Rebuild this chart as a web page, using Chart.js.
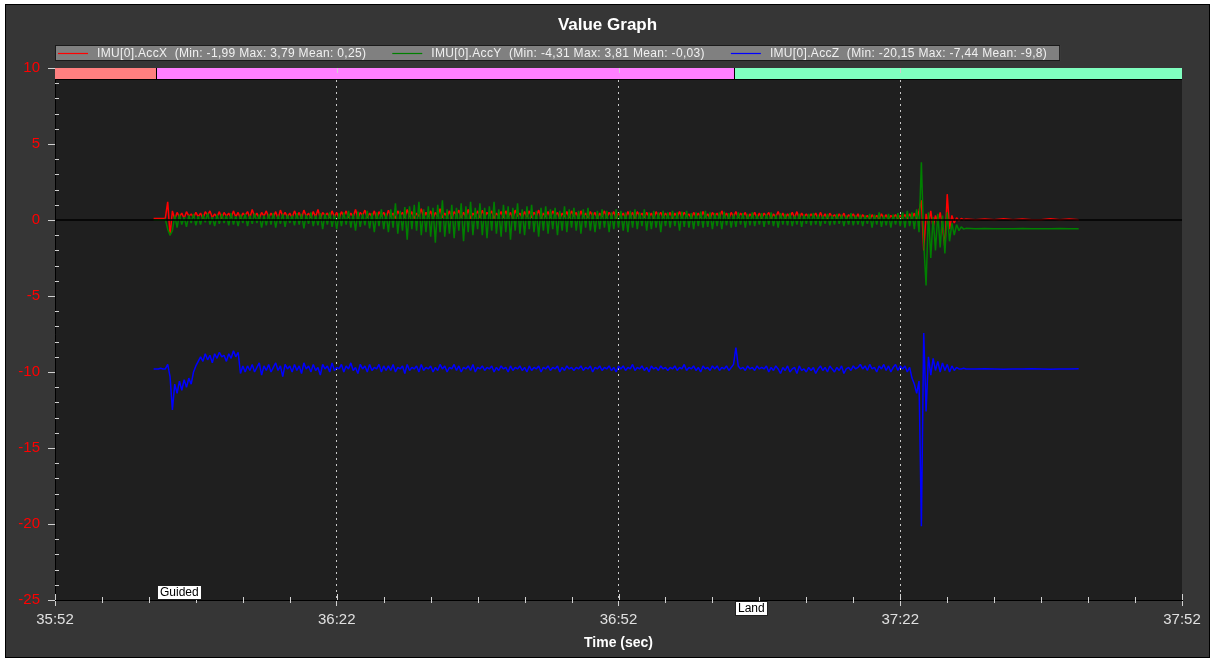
<!DOCTYPE html>
<html>
<head>
<meta charset="utf-8">
<title>Value Graph</title>
<script src="https://cdn.jsdelivr.net/npm/chart.js@4.4.1/dist/chart.umd.min.js"></script>
<style>
    html, body { margin: 0; padding: 0; background: #ffffff; }
    #wrap { width: 1215px; height: 662px; }
</style>
</head>
<body>
<div id="wrap"><canvas id="valueGraph" width="1215" height="662"></canvas></div>
<script>
// ===== data (time in seconds after 35:52) =====
const axisStartSec = 35 * 60 + 52;
// dense flight samples from t=10.5 every 0.25 s, then a calm tail every 1 s
const sampleStart = 10.5;
const sampleStep = 0.25;
const tailStart = 98;
const tailStep = 1;

const seriesNames = ['IMU[0].AccX', 'IMU[0].AccY', 'IMU[0].AccZ'];
const seriesMin = ['-1,99', '-4,31', '-20,15'];
const seriesMax = ['3,79', '3,81', '-7,44'];
const seriesMean = ['0,25', '-0,03', '-9,8'];
const seriesColors = ['#ff0000', '#008000', '#0000ff'];

const accX = [
    0.1, 0.1, 0.1, 0.1, 0.1, 0.12, 1.2, -1.0, 0.6, 0.05, 0.5, 0.2, 0.45, 0.1, 0.55, 0.25, 0.4, 0.15, 0.5, 0.2,
    0.45, 0.1, 0.55, 0.3, 0.6, 0.15, 0.4, 0.2, 0.55, 0.1, 0.5, 0.25, 0.45, 0.15, 0.6, 0.2, 0.5, 0.1, 0.45, 0.3,
    0.55, 0.15, 0.7, 0.2, 0.45, 0.1, 0.5, 0.25, 0.6, 0.15, 0.45, 0.2, 0.55, 0.1, 0.65, 0.25, 0.5, 0.2, 0.45, 0.15,
    0.6, 0.2, 0.5, 0.1, 0.65, 0.25, 0.45, 0.15, 0.55, 0.2, 0.7, 0.1, 0.5, 0.3, 0.45, 0.15, 0.6, 0.2, 0.5, 0.1,
    0.55, 0.25, 0.6, 0.15, 0.45, 0.2, 0.7, 0.1, 0.5, 0.3, 0.65, 0.15, 0.45, 0.2, 0.6, 0.1, 0.55, 0.25, 0.5, 0.15,
    0.65, 0.2, 0.45, 0.1, 0.6, 0.3, 0.5, 0.15, 0.7, 0.2, 0.55, 0.1, 0.45, 0.25, 0.75, 0.15, 0.5, 0.2, 0.6, 0.1,
    0.5, 0.25, 0.75, 0.15, 0.45, 0.2, 0.6, 0.1, 0.55, 0.3, 0.65, 0.15, 0.5, 0.2, 0.7, 0.1, 0.45, 0.25, 0.6, 0.15,
    0.65, 0.2, 0.5, 0.3, 0.6, 0.1, 0.45, 0.25, 0.55, 0.15, 0.6, 0.2, 0.5, 0.1, 0.65, 0.25, 0.45, 0.15, 0.55, 0.2,
    0.6, 0.15, 0.5, 0.25, 0.65, 0.1, 0.45, 0.2, 0.55, 0.15, 0.6, 0.3, 0.5, 0.1, 0.45, 0.2, 0.55, 0.15, 0.6, 0.25,
    0.5, 0.1, 0.6, 0.2, 0.45, 0.15, 0.55, 0.25, 0.5, 0.1, 0.45, 0.2, 0.6, 0.15, 0.5, 0.25, 0.55, 0.1, 0.45, 0.2,
    0.45, 0.15, 0.55, 0.2, 0.5, 0.1, 0.55, 0.25, 0.45, 0.15, 0.5, 0.2, 0.45, 0.1, 0.55, 0.25, 0.5, 0.15, 0.45, 0.2,
    0.5, 0.1, 0.45, 0.2, 0.55, 0.15, 0.5, 0.25, 0.4, 0.1, 0.5, 0.2, 0.45, 0.15, 0.55, 0.2, 0.4, 0.1, 0.5, 0.25,
    0.45, 0.15, 0.6, 0.2, 0.45, 0.1, 0.5, 0.2, 0.55, 0.15, 0.45, 0.25, 0.5, 0.1, 0.4, 0.2, 0.5, 0.15, 0.45, 0.1,
    0.45, 0.25, 0.5, 0.1, 0.4, 0.2, 0.55, 0.15, 0.45, 0.1, 0.4, 0.2, 0.5, 0.15, 0.55, 0.1, 0.45, 0.2, 0.4, 0.15,
    0.4, 0.2, 0.45, 0.1, 0.5, 0.15, 0.4, 0.05, 0.45, 0.2, 0.35, 0.1, 0.4, 0.15, 0.45, 0.05, 0.35, 0.2, 0.4, 0.1,
    0.4, 0.05, 0.35, 0.15, 0.3, 0.0, 0.35, 0.1, 0.3, 0.05, 0.4, 0.1, 0.35, 0.0, 0.3, 0.15, 0.35, 0.05, 0.3, 0.1,
    0.35, 0.05, 0.4, 0.1, 0.45, 0.0, 0.6, 1.3, -2.0, 0.4, -0.3, 0.6, -0.5, 0.3, -0.2, 0.5, -0.4, -1.8, 1.7, -0.6,
    0.3, -0.2, 0.15, -0.05, 0.1, 0.02, 0.06
];
const accXTail = [0.02, 0.07, 0.02, 0.08, 0.02, 0.07, 0.02, 0.02, 0.08, 0.02, 0.07, 0.02];

const accY = [
    0.0, 0.0, 0.0, 0.02, 0.0, 0.05, -0.6, -1.0, -0.7, 0.3, -0.5, 0.35, -0.3, 0.2, -0.45, 0.3, -0.2, 0.4, -0.35, 0.25,
    -0.3, 0.35, -0.15, 0.45, -0.3, 0.2, -0.4, 0.35, -0.25, 0.4, -0.2, 0.3, -0.35, 0.45, -0.3, 0.25, -0.4, 0.35, -0.2, 0.4,
    -0.4, 0.3, -0.25, 0.45, -0.2, 0.35, -0.5, 0.3, -0.35, 0.4, -0.3, 0.45, -0.5, 0.3, -0.25, 0.4, -0.45, 0.35, -0.2, 0.3,
    -0.35, 0.45, -0.3, 0.4, -0.55, 0.35, -0.25, 0.5, -0.4, 0.3, -0.35, 0.45, -0.6, 0.4, -0.3, 0.5, -0.45, 0.35, -0.6, 0.45,
    -0.4, 0.5, -0.3, 0.6, -0.5, 0.4, -0.7, 0.55, -0.45, 0.4, -0.35, 0.6, -0.55, 0.45, -0.8, 0.5, -0.4, 0.7, -0.6, 0.45,
    -0.8, 0.7, -0.5, 1.1, -0.9, 0.6, -0.7, 0.85, -1.3, 0.9, -0.6, 1.0, -0.7, 1.2, -1.0, 0.7, -0.8, 0.9, -1.1, 0.8,
    -1.5, 1.0, -0.8, 1.3, -1.1, 0.7, -0.9, 1.0, -1.2, 0.8, -0.7, 1.1, -1.4, 0.9, -0.8, 1.2, -1.0, 0.8, -0.6, 1.1,
    -1.0, 0.8, -1.2, 0.9, -0.7, 1.2, -0.9, 0.7, -1.1, 1.0, -0.8, 0.9, -1.3, 0.8, -0.7, 1.1, -0.9, 0.7, -1.0, 0.9,
    -0.6, 1.0, -0.8, 0.6, -1.1, 0.8, -0.7, 0.9, -0.9, 0.7, -0.6, 0.8, -1.0, 0.6, -0.7, 0.9, -0.8, 0.7, -0.5, 0.8,
    -0.7, 0.6, -0.9, 0.7, -0.5, 0.8, -0.7, 0.5, -0.8, 0.6, -0.6, 0.7, -0.5, 0.6, -0.8, 0.5, -0.6, 0.7, -0.5, 0.6,
    -0.7, 0.5, -0.8, 0.6, -0.5, 0.7, -0.6, 0.5, -0.4, 0.7, -0.7, 0.5, -0.6, 0.6, -0.5, 0.5, -0.8, 0.6, -0.4, 0.5,
    -0.5, 0.6, -0.4, 0.5, -0.7, 0.55, -0.45, 0.6, -0.5, 0.45, -0.6, 0.5, -0.4, 0.55, -0.5, 0.6, -0.45, 0.5, -0.6, 0.45,
    -0.4, 0.5, -0.6, 0.55, -0.35, 0.45, -0.5, 0.4, -0.45, 0.5, -0.3, 0.45, -0.5, 0.4, -0.35, 0.5, -0.4, 0.35, -0.3, 0.45,
    -0.45, 0.4, -0.3, 0.5, -0.4, 0.35, -0.5, 0.45, -0.3, 0.4, -0.35, 0.45, -0.4, 0.3, -0.3, 0.4, -0.45, 0.35, -0.25, 0.4,
    -0.35, 0.45, -0.3, 0.35, -0.4, 0.3, -0.25, 0.4, -0.35, 0.3, -0.3, 0.4, -0.25, 0.35, -0.4, 0.3, -0.3, 0.45, -0.35, 0.3,
    -0.3, 0.35, -0.4, 0.3, -0.25, 0.4, -0.5, 0.35, -0.3, 0.5, -0.45, 0.3, -0.35, 0.4, -0.5, 0.35, -0.3, 0.45, -0.4, 0.5,
    -0.5, 0.6, -0.4, 0.5, -0.6, 0.7, -0.8, 3.8, -1.5, -4.3, 0.5, -2.5, 0.2, -2.0, 0.4, -1.8, 0.3, -2.2, 0.5, -1.4,
    -0.2, -1.0, -0.3, -0.7, -0.45, -0.6, -0.55
];
const accYTail = [-0.57, -0.56, -0.58, -0.57, -0.57, -0.56, -0.58, -0.57, -0.57, -0.56, -0.58, -0.57];

const accZ = [
    -9.8, -9.8, -9.8, -9.75, -9.8, -9.8, -9.5, -10.3, -12.5, -10.8, -11.4, -10.6, -11.2, -10.5, -11.0, -10.4, -10.8, -10.0, -9.6, -9.3,
    -9.0, -9.3, -8.8, -9.2, -8.9, -9.4, -8.8, -9.1, -8.7, -9.0, -8.9, -9.3, -8.8, -9.1, -8.6, -9.0, -8.7, -10.1, -9.6, -10.0,
    -9.6, -9.9, -9.5, -10.0, -9.7, -9.4, -10.2, -9.6, -9.9, -9.5, -10.0, -9.7, -9.4, -9.9, -9.6, -10.3, -9.5, -9.8, -9.6, -10.0,
    -9.5, -9.9, -9.6, -10.1, -9.4, -9.8, -9.6, -10.0, -9.5, -9.9, -9.7, -10.2, -9.5, -9.8, -9.6, -10.0, -9.4, -9.9, -9.7, -9.8,
    -9.5, -10.0, -9.6, -9.8, -9.4, -9.9, -9.7, -10.1, -9.5, -9.8, -9.6, -10.0, -9.5, -9.9, -9.7, -9.8, -9.5, -10.0, -9.6, -9.9,
    -9.6, -9.9, -9.5, -10.0, -9.7, -9.8, -9.6, -10.1, -9.5, -9.9, -9.7, -9.8, -9.6, -10.0, -9.5, -9.9, -9.7, -9.8, -9.6, -10.0,
    -9.7, -9.9, -9.5, -9.8, -9.6, -10.0, -9.7, -9.8, -9.5, -9.9, -9.6, -10.0, -9.7, -9.8, -9.6, -9.9, -9.5, -10.0, -9.7, -9.8,
    -9.6, -9.9, -9.7, -9.8, -9.6, -10.0, -9.7, -9.9, -9.6, -9.8, -9.7, -10.0, -9.6, -9.9, -9.7, -9.8, -9.6, -9.9, -9.7, -10.0,
    -9.6, -9.9, -9.7, -9.8, -9.6, -10.0, -9.7, -9.8, -9.6, -9.9, -9.7, -9.8, -9.6, -10.0, -9.7, -9.9, -9.6, -9.8, -9.7, -9.9,
    -9.7, -9.8, -9.6, -9.9, -9.7, -9.8, -9.6, -10.0, -9.7, -9.8, -9.6, -9.9, -9.7, -9.8, -9.6, -9.9, -9.7, -10.0, -9.6, -9.8,
    -9.6, -9.9, -9.7, -9.8, -9.5, -9.9, -9.7, -9.8, -9.6, -9.9, -9.7, -10.0, -9.6, -9.8, -9.7, -9.9, -9.6, -9.8, -9.7, -9.9,
    -9.7, -9.8, -9.6, -9.9, -9.7, -9.8, -9.5, -9.9, -9.7, -9.8, -9.6, -9.9, -9.7, -10.0, -9.6, -9.8, -9.7, -9.9, -9.6, -9.8,
    -9.6, -9.9, -9.7, -9.8, -9.6, -9.9, -9.7, -9.5, -8.4, -9.6, -9.8, -9.7, -9.9, -9.6, -9.8, -9.7, -9.9, -9.6, -9.8, -9.7,
    -9.8, -9.6, -10.0, -9.7, -9.9, -9.6, -9.8, -10.1, -9.7, -9.9, -9.6, -10.0, -9.8, -9.7, -10.1, -9.6, -9.9, -9.8, -10.0, -9.7,
    -9.9, -9.7, -10.1, -9.8, -9.6, -9.9, -9.7, -10.0, -9.6, -9.8, -10.0, -9.7, -9.9, -9.6, -10.1, -9.8, -9.7, -9.9, -9.6, -9.8,
    -9.7, -9.5, -9.8, -9.6, -9.9, -9.5, -9.8, -9.7, -10.0, -9.6, -9.8, -9.5, -9.9, -9.6, -10.0, -9.7, -9.5, -9.9, -9.6, -9.8,
    -9.6, -10.0, -9.7, -10.4, -10.8, -11.4, -10.6, -20.15, -7.44, -12.6, -9.0, -10.2, -9.1, -9.9, -9.3, -10.0, -9.4, -9.9, -9.5, -10.0,
    -9.6, -9.9, -9.7, -9.8, -9.8, -9.75, -9.8
];
const accZTail = [-9.8, -9.78, -9.8, -9.82, -9.8, -9.8, -9.78, -9.8, -9.82, -9.8, -9.8, -9.78];

// flight modes: start time (s after 35:52)
const modeNames = ['', 'Guided', 'Land'];
const modeStarts = [0, 10.75, 72.25];
const modeColors = ['#ff8080', '#ff80ff', '#80ffc0'];

const xMin = 0, xMax = 120, xStep = 30;
const yMin = -25, yMax = 10, yStep = 5;

// ===== helpers =====
function fmtTime(v) {
    const total = axisStartSec + v;
    const mm = Math.floor(total / 60);
    const ss = Math.round(total % 60);
    return mm + ':' + String(ss).padStart(2, '0');
}

function toPoints(values, tail) {
    const pts = values.map((v, i) => ({ x: sampleStart + i * sampleStep, y: v }));
    tail.forEach((v, i) => pts.push({ x: tailStart + i * tailStep, y: v }));
    return pts;
}

const FONT = '"Liberation Sans", Arial, sans-serif';
Chart.defaults.font.family = FONT;

// ===== decorations: frame, stripe, zero line, minor ticks, legend =====
const decorPlugin = {
    id: 'valueGraphDecor',
    beforeDraw(chart) {
        const { ctx, chartArea: a, width, height } = chart;
        ctx.save();
        ctx.fillStyle = '#ffffff';
        ctx.fillRect(0, 0, width, height);
        ctx.fillStyle = '#363636';
        ctx.fillRect(5, 4, 1205, 654);
        ctx.strokeStyle = '#000000';
        ctx.lineWidth = 1;
        ctx.strokeRect(5.5, 4.5, 1204, 653);
        ctx.fillStyle = '#1f1f1f';
        ctx.fillRect(a.left, a.top, a.right - a.left, a.bottom - a.top);
        ctx.restore();
    },
    afterDatasetsDraw(chart) {
        const { ctx, chartArea: a, scales: { x, y } } = chart;
        ctx.save();

        // zero line on top of the data
        const y0 = y.getPixelForValue(0);
        ctx.strokeStyle = '#000000';
        ctx.lineWidth = 1.5;
        ctx.beginPath();
        ctx.moveTo(a.left, y0);
        ctx.lineTo(a.right, y0);
        ctx.stroke();

        // mode stripe at the top
        const stripeH = 11;
        modeStarts.forEach((s, i) => {
            const x1 = Math.round(x.getPixelForValue(s));
            const x2 = i + 1 < modeStarts.length ? Math.round(x.getPixelForValue(modeStarts[i + 1])) : a.right;
            ctx.fillStyle = modeColors[i];
            ctx.fillRect(x1, a.top, x2 - x1, stripeH);
        });
        ctx.strokeStyle = '#000000';
        ctx.lineWidth = 1;
        ctx.beginPath();
        ctx.moveTo(a.left, a.top + stripeH + 0.5);
        ctx.lineTo(a.right, a.top + stripeH + 0.5);
        modeStarts.forEach((s, i) => {
            if (i === 0) return;
            const px = Math.round(x.getPixelForValue(s)) + 0.5;
            ctx.moveTo(px, a.top);
            ctx.lineTo(px, a.top + stripeH);
        });
        ctx.stroke();

        // ticks: x minor every 5 s, inner part of majors, top majors
        ctx.strokeStyle = '#d0d0d0';
        ctx.beginPath();
        for (let t = xMin; t <= xMax; t += 5) {
            const px = Math.round(x.getPixelForValue(t)) + 0.5;
            if (t % xStep === 0) {
                ctx.moveTo(px, a.bottom - 6);
                ctx.lineTo(px, a.bottom);
                if (t !== xMin && t !== xMax) {
                    ctx.moveTo(px, a.top);
                    ctx.lineTo(px, a.top + 5);
                }
            } else {
                ctx.moveTo(px, a.bottom - 3);
                ctx.lineTo(px, a.bottom + 3);
            }
        }
        // y minor every 1
        for (let v = yMin + 1; v < yMax; v += 1) {
            if (v % yStep === 0) continue;
            const py = Math.round(y.getPixelForValue(v)) + 0.5;
            ctx.moveTo(a.left, py);
            ctx.lineTo(a.left + 4, py);
        }
        ctx.stroke();

        // mode labels
        ctx.font = '12px ' + FONT;
        ctx.textBaseline = 'middle';
        modeNames.forEach((name, i) => {
            if (!name) return;
            const px = Math.round(x.getPixelForValue(modeStarts[i])) + 1;
            const w = Math.round(ctx.measureText(name).width) + 6;
            const h = 15;
            const top = i % 2 === 1 ? a.bottom - h : a.bottom + 1;
            ctx.fillStyle = '#ffffff';
            ctx.fillRect(px, top, w, h);
            ctx.strokeStyle = '#202020';
            ctx.strokeRect(px + 0.5, top + 0.5, w - 1, h - 1);
            ctx.fillStyle = '#000000';
            ctx.fillText(name, px + 3, top + h / 2 + 0.5);
        });
        ctx.restore();
    },
    afterDraw(chart) {
        const { ctx, chartArea: a } = chart;
        ctx.save();
        ctx.font = '12px ' + FONT;
        ctx.letterSpacing = '0.33px';
        ctx.textBaseline = 'middle';
        const top = 45, h = 16, cy = top + h / 2;
        const texts = seriesNames.map((n, i) =>
            `${n}  (Min: ${seriesMin[i]} Max: ${seriesMax[i]} Mean: ${seriesMean[i]})`);
        let cx = a.left + 3;
        const items = texts.map(t => {
            const item = { lineX: cx, textX: cx + 39, text: t };
            cx = item.textX + ctx.measureText(t).width + 26;
            return item;
        });
        const right = cx - 26 + 13;
        ctx.fillStyle = '#808080';
        ctx.fillRect(a.left, top, right - a.left, h);
        ctx.strokeStyle = '#1a1a1a';
        ctx.lineWidth = 1;
        ctx.strokeRect(a.left + 0.5, top + 0.5, right - a.left - 1, h - 1);
        items.forEach((it, i) => {
            ctx.strokeStyle = seriesColors[i];
            ctx.lineWidth = 1.2;
            ctx.beginPath();
            ctx.moveTo(it.lineX, Math.round(cy) + 0.5);
            ctx.lineTo(it.lineX + 30, Math.round(cy) + 0.5);
            ctx.stroke();
            ctx.fillStyle = '#f0f0f0';
            ctx.fillText(it.text, it.textX, cy + 0.5);
        });
        ctx.restore();
    }
};

// ===== chart =====
const datasets = [[accX, accXTail], [accY, accYTail], [accZ, accZTail]].map(([vals, tail], i) => ({
    label: seriesNames[i],
    data: toPoints(vals, tail),
    borderColor: seriesColors[i],
    backgroundColor: seriesColors[i],
    borderWidth: 1.5,
    borderJoinStyle: 'bevel',
    pointRadius: 0,
    tension: 0,
    order: 3 - i,
    yAxisID: 'y'
}));

new Chart(document.getElementById('valueGraph'), {
    type: 'line',
    data: { datasets },
    options: {
        responsive: false,
        animation: false,
        layout: { padding: 0 },
        plugins: {
            legend: { display: false },
            tooltip: { enabled: false },
            title: {
                display: true,
                text: 'Value Graph',
                color: '#ffffff',
                font: { size: 17, weight: 'bold' },
                padding: { top: 15, bottom: 32.6 }
            }
        },
        scales: {
            x: {
                type: 'linear',
                min: xMin,
                max: xMax,
                afterFit: s => { s.height = 62; },
                ticks: {
                    stepSize: xStep,
                    autoSkip: false,
                    maxRotation: 0,
                    color: '#e0e0e0',
                    font: { size: 15 },
                    padding: 5,
                    callback: v => fmtTime(v)
                },
                grid: {
                    color: c => (c.tick && (c.tick.value === xMin || c.tick.value === xMax)) ? 'rgba(0,0,0,0)' : '#c8c8c8',
                    tickColor: '#d0d0d0',
                    tickLength: 6,
                    tickBorderDash: []
                },
                border: { display: true, color: '#000000', width: 1, dash: [2, 4] },
                title: {
                    display: true,
                    text: 'Time (sec)',
                    color: '#ffffff',
                    font: { size: 14, weight: 'bold' },
                    padding: { top: 4, bottom: 10 }
                }
            },
            y: {
                min: yMin,
                max: yMax,
                afterFit: s => { s.width = 55; },
                ticks: {
                    stepSize: yStep,
                    color: '#ff0000',
                    font: { size: 15 },
                    padding: 8
                },
                grid: {
                    drawOnChartArea: false,
                    tickColor: '#d0d0d0',
                    tickLength: 7
                },
                border: { display: true, color: '#000000', width: 1 }
            },
            // empty right-hand margin so the title centres on the full width
            yRight: {
                position: 'right',
                min: yMin,
                max: yMax,
                afterFit: s => { s.width = 33; },
                ticks: { display: false },
                grid: { display: false, drawTicks: false },
                border: { display: false }
            }
        }
    },
    plugins: [decorPlugin]
});
</script>
</body>
</html>
